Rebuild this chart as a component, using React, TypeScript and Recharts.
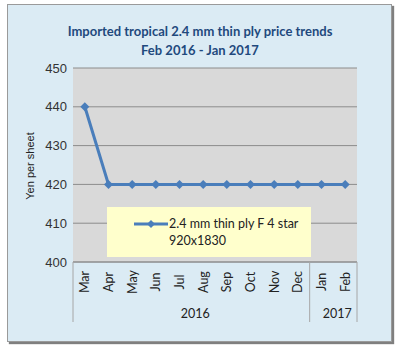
import { CartesianGrid, Line, LineChart, XAxis, YAxis } from "recharts";

const months = ["Mar", "Apr", "May", "Jun", "Jul", "Aug", "Sep", "Oct", "Nov", "Dec", "Jan", "Feb"];
const prices = [440, 420, 420, 420, 420, 420, 420, 420, 420, 420, 420, 420];
const years = ["2016", "2017"];
const yearSpans = [10, 2];
const yTicks = [400, 410, 420, 430, 440, 450];
const seriesName = "2.4 mm thin ply F 4 star 920x1830";

const data = months.map((m, i) => ({ month: m, price: prices[i] }));

const lineColor = "#4a7ebb";
const font = "Lato, 'Open Sans', sans-serif";
const arial = "'Liberation Sans', Arial, sans-serif";

// group start indexes for the multi-level axis
const groupStarts: number[] = [];
yearSpans.reduce((acc, n) => {
  groupStarts.push(acc);
  return acc + n;
}, 0);

const Diamond = (props: any) => {
  const { cx, cy } = props;
  if (cx == null || cy == null) return null;
  const r = 4.5;
  return <path d={`M${cx},${cy - r}L${cx + r},${cy}L${cx},${cy + r}L${cx - r},${cy}Z`} fill={lineColor} />;
};

const MonthTick = (props: any) => {
  const { x, y, payload, index, width } = props;
  const band = width / months.length;
  const g = groupStarts.indexOf(index);
  const items = [];
  if (g >= 0) {
    items.push(<line key="s" x1={x - band / 2} x2={x - band / 2} y1={y} y2={y + 60} stroke="#a6a6a6" />);
    const span = yearSpans[g];
    const cx = x - band / 2 + (span * band) / 2;
    items.push(
      <text key="y" x={cx + 4} y={y + 56} textAnchor="middle" fontSize={12.5} fill="#222" fontFamily={font}>
        {years[g]}
      </text>
    );
  }
  if (index === months.length - 1) {
    items.push(<line key="e" x1={x + band / 2} x2={x + band / 2} y1={y} y2={y + 60} stroke="#a6a6a6" />);
  }
  return (
    <g>
      {items}
      <text
        x={x}
        y={y + 20}
        transform={`rotate(-90 ${x} ${y + 20})`}
        textAnchor="middle"
        dominantBaseline="central"
        fontSize={12.5}
        fill="#222"
        fontFamily={font}
      >
        {payload.value}
      </text>
    </g>
  );
};

const LegendBox = () => {
  const words = seriesName.split(" ");
  return (
    <div
      style={{
        position: "absolute",
        left: 107,
        top: 207,
        width: 204,
        height: 50,
        background: "#ffffcc",
        fontFamily: font,
        fontSize: 12.5,
        color: "#222",
      }}
    >
      <svg width={36} height={10} style={{ position: "absolute", left: 27, top: 12 }}>
        <line x1={0} y1={5} x2={34} y2={5} stroke={lineColor} strokeWidth={3} />
        <path d="M17,1L21,5L17,9L13,5Z" fill={lineColor} />
      </svg>
      <div style={{ position: "absolute", left: 62, top: 8, lineHeight: "17px" }}>{words.slice(0, -1).join(" ")}</div>
      <div style={{ position: "absolute", left: 62, top: 25, lineHeight: "17px" }}>{words[words.length - 1]}</div>
    </div>
  );
};

export default function App() {
  return (
    <div style={{ position: "absolute", left: 0, top: 0, width: 406, height: 355, background: "#fff" }}>
      <div
        style={{
          position: "absolute",
          left: 7,
          top: 4,
          width: 383,
          height: 336,
          background: "#dbebf4",
          border: "1px solid #9a9a9a",
          boxShadow: "2px 2px 1px #7f7f7f",
        }}
      />
      <div
        style={{
          position: "absolute",
          left: 0,
          top: 22,
          width: 400,
          textAlign: "center",
          color: "#1f497d",
          fontFamily: font,
          fontWeight: 700,
          fontSize: 13,
          lineHeight: "19px",
        }}
      >
        Imported tropical 2.4 mm thin ply price trends
        <br />
        Feb 2016 - Jan 2017
      </div>
      <div style={{ position: "absolute", left: 0, top: 0 }}>
        <LineChart width={406} height={355} data={data} margin={{ top: 68, right: 49, bottom: 0, left: 0 }}>
          <CartesianGrid vertical={false} fill="#d9d9d9" stroke="#8c8c8c" />
          <XAxis
            dataKey="month"
            scale="band"
            interval={0}
            height={93}
            tickLine={false}
            tickSize={0}
            tickMargin={0}
            axisLine={{ stroke: "#8c8c8c" }}
            tick={<MonthTick />}
          />
          <YAxis
            domain={[400, 450]}
            ticks={yTicks}
            width={73}
            axisLine={false}
            tickLine={false}
            tickSize={0}
            tickMargin={6}
            tick={{ fill: "#333", fontSize: 13, fontFamily: arial }}
          />
          <text
            x={30}
            y={166}
            transform="rotate(-90 30 166)"
            textAnchor="middle"
            dominantBaseline="central"
            fill="#222"
            fontSize={11}
            fontFamily={arial}
          >
            Yen per sheet
          </text>
          <Line
            dataKey="price"
            name={seriesName}
            stroke={lineColor}
            strokeWidth={3}
            dot={<Diamond />}
            activeDot={false}
            isAnimationActive={false}
          />
        </LineChart>
      </div>
      <LegendBox />
    </div>
  );
}
